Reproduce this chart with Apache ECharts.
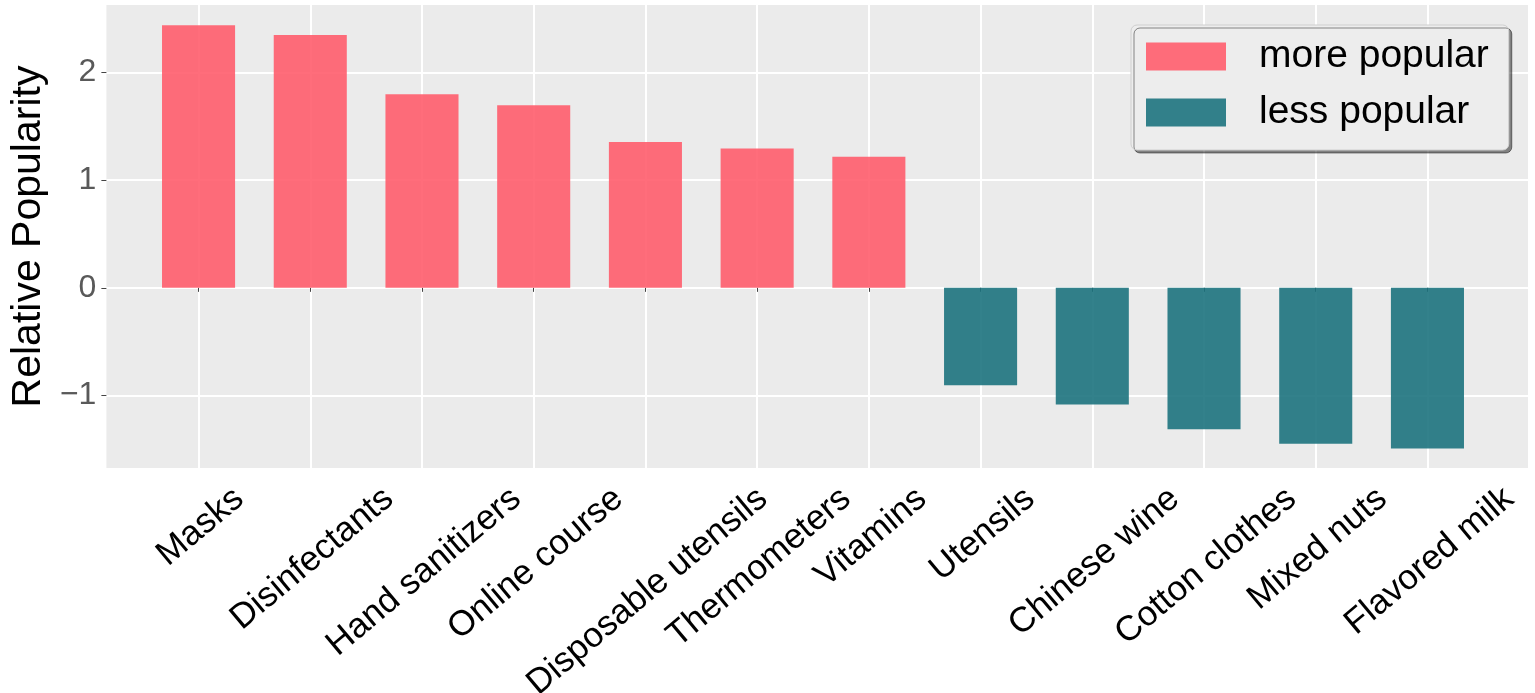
<!DOCTYPE html>
<html>
<head>
<meta charset="utf-8">
<script src="https://cdn.jsdelivr.net/npm/echarts@6/dist/echarts.min.js"></script>
<style>
html,body{margin:0;padding:0;background:#fff;}
#chart{width:1535px;height:693px;}
</style>
</head>
<body>
<div id="chart"></div>
<script>
const categories = ['Masks','Disinfectants','Hand sanitizers','Online course','Disposable utensils','Thermometers','Vitamins','Utensils','Chinese wine','Cotton clothes','Mixed nuts','Flavored milk'];
const morePopular = [2.436, 2.346, 1.796, 1.694, 1.353, 1.294, 1.216, null, null, null, null, null];
const lessPopular = [null, null, null, null, null, null, null, -0.903, -1.083, -1.312, -1.446, -1.491];
const seriesNames = ['more popular', 'less popular'];
const yMin = -1.672, yMax = 2.625;

const FONT = '"Liberation Sans", Arial, Helvetica, sans-serif';
const LABEL_SIZE = 35;
const ROT = 40 * Math.PI / 180;
const measureCtx = document.createElement('canvas').getContext('2d');
measureCtx.font = LABEL_SIZE + 'px ' + FONT;

const chart = echarts.init(document.getElementById('chart'));
const plotLeft = 98, plotRight = 1535 - 1528, plotTop = 5, plotBottom = 693 - 468;
const band = (1528 - 98) / 12.8;
const innerLeft = plotLeft + 0.4 * band, innerRight = plotRight + 0.4 * band;

chart.setOption({
  animation: false,
  backgroundColor: '#ffffff',
  textStyle: { fontFamily: FONT },
  legend: {
    data: seriesNames,
    orient: 'vertical',
    left: 1131, top: 25,
    padding: [12, 20, 18, 15],
    itemWidth: 80, itemHeight: 28, itemGap: 17,
    icon: 'rect',
    backgroundColor: '#EDEDED',
    borderColor: '#CFCFCF', borderWidth: 1, borderRadius: 6,
    shadowColor: 'rgba(0,0,0,0.45)', shadowBlur: 0, shadowOffsetX: 3, shadowOffsetY: 3,
    textStyle: { fontSize: 39, color: '#000', fontFamily: FONT, padding: [0, 0, 0, 28] }
  },
  grid: [
    { left: plotLeft, right: plotRight, top: plotTop, bottom: plotBottom, show: true, backgroundColor: '#EBEBEB', borderWidth: 0 },
    { left: innerLeft, right: innerRight, top: plotTop, bottom: plotBottom, show: false }
  ],
  xAxis: [
    { gridIndex: 0, type: 'value', min: 0, max: 1, show: false },
    { gridIndex: 1, type: 'category', data: categories,
      axisLine: { show: false },
      axisTick: { show: true, interval: 0, alignWithLabel: true, length: 4, lineStyle: { color: '#444', width: 1 } },
      axisLabel: { show: false, interval: 0 },
      splitLine: { show: true, interval: 0, alignWithLabel: true, lineStyle: { color: '#ffffff', width: 2 } } }
  ],
  yAxis: [
    { gridIndex: 0, type: 'value', min: yMin, max: yMax, splitNumber: 4,
      name: 'Relative Popularity', nameLocation: 'middle', nameGap: 55,
      nameTextStyle: { fontSize: 41, color: '#000', fontFamily: FONT },
      axisLine: { show: false },
      axisTick: { show: true, length: 5, lineStyle: { color: '#444' } },
      axisLabel: { fontSize: 32, color: '#595959', margin: 10, showMinLabel: false, showMaxLabel: false,
        formatter: v => (v < 0 ? '\u2212' + Math.abs(v) : String(v)) },
      splitLine: { show: true, showMinLine: false, showMaxLine: false, lineStyle: { color: '#ffffff', width: 2 } } },
    { gridIndex: 1, type: 'value', min: yMin, max: yMax, show: false, splitLine: { show: false } }
  ],
  series: [
    { name: seriesNames[0], type: 'bar', xAxisIndex: 1, yAxisIndex: 1, stack: 'pop', barWidth: '65.4%',
      data: morePopular, itemStyle: { color: '#FF5D6D', opacity: 0.9 } },
    { name: seriesNames[1], type: 'bar', xAxisIndex: 1, yAxisIndex: 1, stack: 'pop', barWidth: '65.4%',
      data: lessPopular, itemStyle: { color: '#1D737E', opacity: 0.9 } },
    { name: 'labels', type: 'custom', xAxisIndex: 1, yAxisIndex: 1, clip: false, silent: true,
      data: categories.map((c, i) => [i, yMin]),
      renderItem: function (params, api) {
        const idx = api.value(0);
        const text = categories[idx];
        const p = api.coord([idx, yMin]);
        const L = measureCtx.measureText(text).width;
        const h = LABEL_SIZE;
        const bboxH = L * Math.sin(ROT) + h * Math.cos(ROT);
        const top = p[1] + 13;
        return {
          type: 'text',
          x: p[0] + 2, y: top + bboxH / 2,
          rotation: ROT,
          style: { text: text, font: LABEL_SIZE + 'px ' + FONT, fill: '#000', align: 'center', verticalAlign: 'middle' }
        };
      }
    }
  ]
});
</script>
</body>
</html>
